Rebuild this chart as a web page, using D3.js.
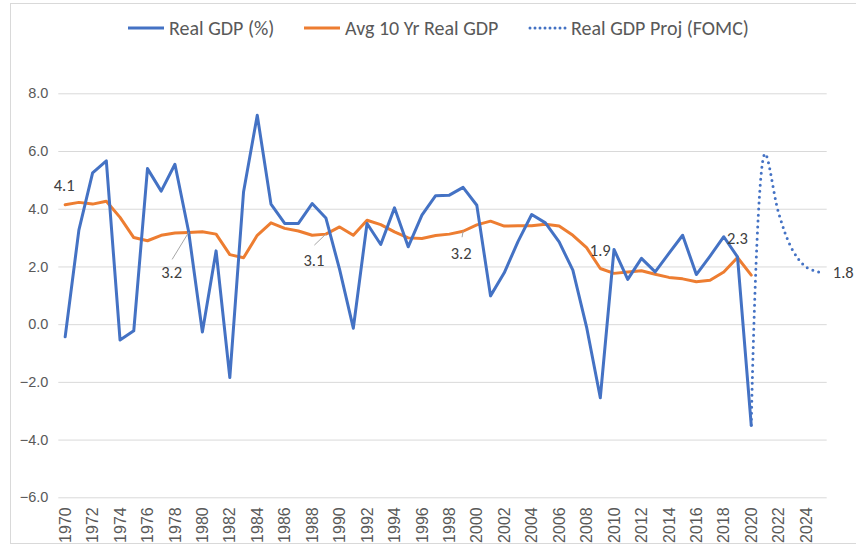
<!DOCTYPE html>
<html>
<head>
<meta charset="utf-8">
<script src="https://cdn.jsdelivr.net/npm/d3@7"></script>
<style>
  body { margin: 0; background: #fff; }
  svg { display: block; font-family: Calibri, Carlito, 'Liberation Sans', Arial, sans-serif; }
</style>
</head>
<body>
<div id="chart"></div>
<script>
// Real GDP vs 10 yr average, with FOMC projection
const years = d3.range(1970, 2026);
const histYears = d3.range(1970, 2021);
const realGdp = [
  -0.44, 3.26, 5.24, 5.66, -0.55, -0.23, 5.39, 4.61, 5.54, 3.2,
  -0.27, 2.54, -1.85, 4.58, 7.24, 4.16, 3.49, 3.49, 4.18, 3.68,
  1.9, -0.14, 3.49, 2.76, 4.03, 2.68, 3.78, 4.45, 4.47, 4.74,
  4.12, 0.98, 1.78, 2.86, 3.80, 3.51, 2.85, 1.87, -0.1, -2.55,
  2.59, 1.55, 2.28, 1.81, 2.45, 3.08, 1.72, 2.36, 3.03, 2.33,
  -3.5
];
const avg10yr = [
  4.14, 4.22, 4.16, 4.26, 3.70, 3.00, 2.89, 3.08, 3.16, 3.18,
  3.20, 3.12, 2.41, 2.30, 3.08, 3.51, 3.32, 3.23, 3.08, 3.12,
  3.37, 3.08, 3.60, 3.45, 3.20, 2.99, 2.97, 3.07, 3.12, 3.22,
  3.44, 3.57, 3.40, 3.41, 3.41, 3.46, 3.40, 3.08, 2.65, 1.93,
  1.76, 1.81, 1.85, 1.73, 1.62, 1.57, 1.47, 1.52, 1.81, 2.31,
  1.70
];
const projYears = [2020, 2021, 2022, 2023, 2024, 2025];
const projGdp = [-3.5, 5.9, 3.85, 2.58, 1.98, 1.8];
const yTicks = [-6, -4, -2, 0, 2, 4, 6, 8];
const avgLabelYears = [1970, 1979, 1989, 1999, 2009, 2019];
const seriesNames = ['Real GDP (%)', 'Avg 10 Yr Real GDP', 'Real GDP Proj (FOMC)'];

(function () {
  const W = 856, H = 546;
  const blue = '#4472C4', orange = '#ED7D31';

  const svg = d3.select('#chart').append('svg').attr('width', W).attr('height', H);

  // chart frame
  svg.append('rect').attr('x', 10.5).attr('y', 3.5).attr('width', 860).attr('height', 540)
    .attr('fill', 'none').attr('stroke', '#d9d9d9');

  const x = d3.scaleBand().domain(years).range([58.3, 826.7]).padding(0);
  const cx = yr => x(yr) + x.bandwidth() / 2;
  const y = d3.scaleLinear().domain([-6, 8]).range([497.3, 93.3]);

  // gridlines + y labels
  const yAxis = svg.append('g').attr('transform', 'translate(58.3,0)')
    .call(d3.axisLeft(y).tickValues(yTicks).tickSize(-(826.7 - 58.3)).tickFormat(d3.format('.1f')).tickPadding(10));
  yAxis.select('.domain').remove();
  yAxis.selectAll('line').attr('stroke', '#d9d9d9').attr('stroke-width', 1);
  yAxis.selectAll('text').attr('fill', '#595959').style('font-size', '14.5px');

  // x labels, every other year, rotated
  const xAxis = svg.append('g').attr('transform', 'translate(0,497.3)')
    .call(d3.axisBottom(x).tickValues(years.filter(d => d % 2 === 0)).tickSize(0));
  xAxis.select('.domain').remove();
  xAxis.selectAll('text')
    .attr('fill', '#595959').style('font-size', '16px')
    .attr('text-anchor', 'end').attr('transform', 'rotate(-90)')
    .attr('x', -10).attr('y', 0).attr('dy', '0.35em');

  const line = d3.line().x(d => cx(d[0])).y(d => y(d[1]));

  svg.append('path').datum(histYears.map((yr, i) => [yr, avg10yr[i]]))
    .attr('d', line).attr('fill', 'none').attr('stroke', orange)
    .attr('stroke-width', 3).attr('stroke-linejoin', 'round').attr('stroke-linecap', 'round');

  svg.append('path').datum(histYears.map((yr, i) => [yr, realGdp[i]]))
    .attr('d', line).attr('fill', 'none').attr('stroke', blue)
    .attr('stroke-width', 3).attr('stroke-linejoin', 'round').attr('stroke-linecap', 'round');

  svg.append('path').datum(projYears.map((yr, i) => [yr, projGdp[i]]))
    .attr('d', line.curve(d3.curveCatmullRom)).attr('fill', 'none').attr('stroke', blue)
    .attr('stroke-width', 3).attr('stroke-linecap', 'round').attr('stroke-dasharray', '0 6');

  // data labels on the 10 yr average (offsets + optional leader end)
  const labelPos = {
    1970: { dx: -1, dy: -19 },
    1979: { dx: -17, dy: 40, lead: [-16.5, 27] },
    1989: { dx: -12, dy: 26, lead: [-11.5, 11] },
    1999: { dx: -2, dy: 22, lead: [-1, 6] },
    2009: { dx: 0, dy: -18 },
    2019: { dx: 0, dy: -19 }
  };
  const fmt = d3.format('.1f');
  const labels = svg.append('g').style('font-size', '16.5px').attr('fill', '#404040');
  avgLabelYears.forEach(yr => {
    const v = avg10yr[histYears.indexOf(yr)];
    const p = labelPos[yr];
    const px = cx(yr), py = y(v);
    if (p.lead) {
      svg.append('line').attr('x1', px).attr('y1', py)
        .attr('x2', px + p.lead[0]).attr('y2', py + p.lead[1])
        .attr('stroke', '#a6a6a6').attr('stroke-width', 1);
    }
    labels.append('text').attr('x', px + p.dx).attr('y', py + p.dy)
      .attr('text-anchor', 'middle').attr('dy', '0.35em').text(fmt(v));
  });
  const lastYr = projYears[projYears.length - 1], lastV = projGdp[projGdp.length - 1];
  labels.append('text').attr('x', cx(lastYr) + 13).attr('y', y(lastV)).attr('dy', '0.35em')
    .text(fmt(lastV));

  // legend
  const legend = svg.append('g').attr('transform', 'translate(0,28)');
  const legendItems = [
    { x: 127, color: blue, dash: null },
    { x: 303, color: orange, dash: null },
    { x: 529, color: blue, dash: '0 5' }
  ];
  legendItems.forEach((it, i) => {
    legend.append('line').attr('x1', it.x + 1).attr('x2', it.x + 37).attr('y1', 0).attr('y2', 0)
      .attr('stroke', it.color).attr('stroke-width', 3).attr('stroke-linecap', it.dash ? 'round' : 'butt')
      .attr('stroke-dasharray', it.dash);
    legend.append('text').attr('x', it.x + 42).attr('y', 0).attr('dy', '0.35em')
      .attr('fill', '#595959').style('font-size', '20px').text(seriesNames[i]);
  });
})();
</script>
</body>
</html>
